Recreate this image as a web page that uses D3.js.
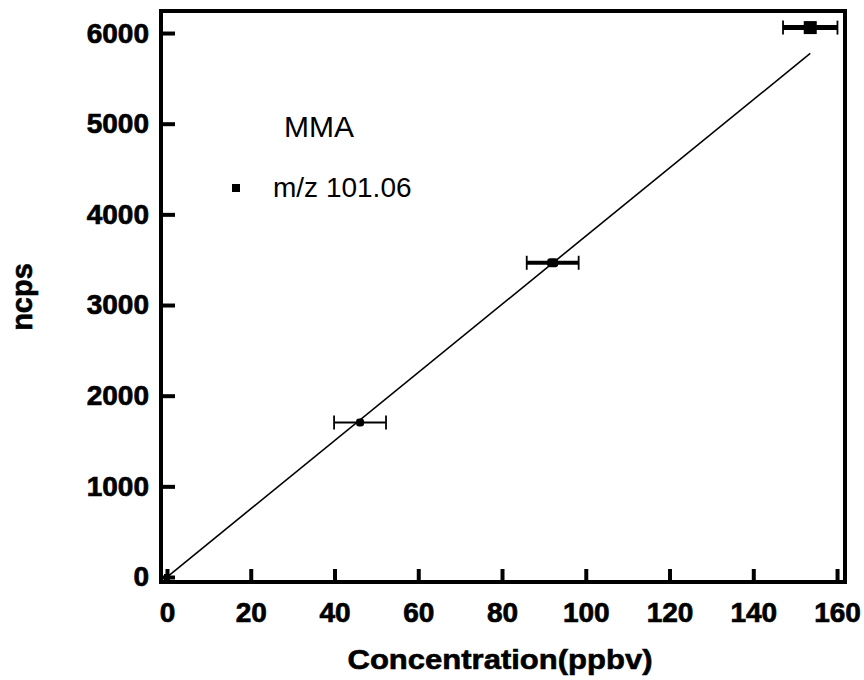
<!DOCTYPE html>
<html>
<head>
<meta charset="utf-8">
<script src="https://cdn.jsdelivr.net/npm/d3@7"></script>
<style>
  body { margin: 0; background: #fff; }
  svg { display: block; }
  text { font-family: Arial, "Liberation Sans", sans-serif; }
</style>
</head>
<body>
<svg id="chart" width="864" height="680"></svg>
<script>
// Data
const concentration = [0, 46.1, 92.1, 153.6];
const ncps = [0, 1705, 3466, 6060];
const xErr = [0, 6.2, 6.2, 6.5];
const markerSize = [6, 8, 11, 13];
const barWidth = [2, 2, 4, 5];
const fitSlope = 37.6;
const fitIntercept = 0;
const fitRange = [0, 153.6];
const xTicks = [0, 20, 40, 60, 80, 100, 120, 140, 160];
const yTicks = [0, 1000, 2000, 3000, 4000, 5000, 6000];
const legendTitle = "MMA";
const seriesName = "m/z 101.06";
const xLabel = "Concentration(ppbv)";
const yLabel = "ncps";

const FONT = "Arial, 'Liberation Sans', sans-serif";
const svg = d3.select("#chart");
const pLeft = 161, pRight = 845, pTop = 11, pBottom = 582;

const x = d3.scaleLinear().domain([-1.43, 161.9]).range([pLeft, pRight]);
const y = d3.scaleLinear().domain([-55, 6243]).range([pBottom, pTop]);

// Fit line
svg.append("line")
  .attr("x1", x(fitRange[0])).attr("y1", y(fitIntercept + fitSlope * fitRange[0]))
  .attr("x2", x(fitRange[1])).attr("y2", y(fitIntercept + fitSlope * fitRange[1]))
  .attr("stroke", "#000").attr("stroke-width", 1.6);

// Error bars and points
const pts = concentration.map((c, i) => ({c, v: ncps[i], e: xErr[i], s: markerSize[i], w: barWidth[i]}));
const g = svg.append("g");
pts.forEach(p => {
  if (p.e > 0) {
    g.append("line")
      .attr("x1", x(p.c - p.e)).attr("x2", x(p.c + p.e))
      .attr("y1", y(p.v)).attr("y2", y(p.v))
      .attr("stroke", "#000").attr("stroke-width", p.w);
    [p.c - p.e, p.c + p.e].forEach(ev => {
      g.append("line")
        .attr("x1", x(ev)).attr("x2", x(ev))
        .attr("y1", y(p.v) - 7).attr("y2", y(p.v) + 7)
        .attr("stroke", "#000").attr("stroke-width", 1.8);
    });
  }
  const h = (p.s === 11) ? 9 : p.s;
  g.append("rect")
    .attr("x", x(p.c) - p.s / 2).attr("y", y(p.v) - h / 2)
    .attr("width", p.s).attr("height", h)
    .attr("rx", p.s > 7 && p.s < 12 ? 3 : 0)
    .attr("fill", "#000");
});

// Frame
svg.append("rect")
  .attr("x", pLeft).attr("y", pTop)
  .attr("width", pRight - pLeft).attr("height", pBottom - pTop)
  .attr("fill", "none").attr("stroke", "#000").attr("stroke-width", 4);

// X axis ticks (inward)
const xAxis = svg.append("g").attr("transform", `translate(0,${pBottom})`)
  .call(d3.axisBottom(x).tickValues(xTicks).tickFormat(d3.format("d"))
    .tickSizeInner(-13).tickSizeOuter(0).tickPadding(0));
xAxis.select(".domain").remove();
xAxis.selectAll(".tick line").attr("stroke-width", 4);
xAxis.selectAll("text")
  .attr("y", 40).attr("dy", null)
  .attr("font-size", 28).attr("font-weight", "bold").attr("fill", "#000")
  .attr("stroke", "#000").attr("stroke-width", 0.7)
  .attr("font-family", FONT);

// Y axis ticks (inward)
const yAxis = svg.append("g").attr("transform", `translate(${pLeft},0)`)
  .call(d3.axisLeft(y).tickValues(yTicks).tickFormat(d3.format("d"))
    .tickSizeInner(-14).tickSizeOuter(0).tickPadding(12));
yAxis.select(".domain").remove();
yAxis.selectAll(".tick line").attr("stroke-width", 4);
yAxis.selectAll("text")
  .attr("font-size", 28).attr("font-weight", "bold").attr("fill", "#000")
  .attr("stroke", "#000").attr("stroke-width", 0.7)
  .attr("font-family", FONT);

// Axis labels
svg.append("text")
  .attr("x", 500).attr("y", 669)
  .attr("text-anchor", "middle")
  .attr("font-size", 28).attr("font-weight", "bold")
  .attr("stroke", "#000").attr("stroke-width", 0.6)
  .attr("textLength", 305).attr("lengthAdjust", "spacingAndGlyphs")
  .text(xLabel);
svg.append("text")
  .attr("transform", "translate(32,297) rotate(-90)")
  .attr("text-anchor", "middle")
  .attr("font-size", 29).attr("font-weight", "bold")
  .attr("stroke", "#000").attr("stroke-width", 0.6)
  .text(yLabel);

// Legend
svg.append("text")
  .attr("x", 319).attr("y", 137)
  .attr("text-anchor", "middle")
  .attr("font-size", 30)
  .text(legendTitle);
svg.append("rect")
  .attr("x", 232).attr("y", 184).attr("width", 8).attr("height", 8).attr("fill", "#000");
svg.append("text")
  .attr("x", 273).attr("y", 197)
  .attr("font-size", 28)
  .text(seriesName);
</script>
</body>
</html>
